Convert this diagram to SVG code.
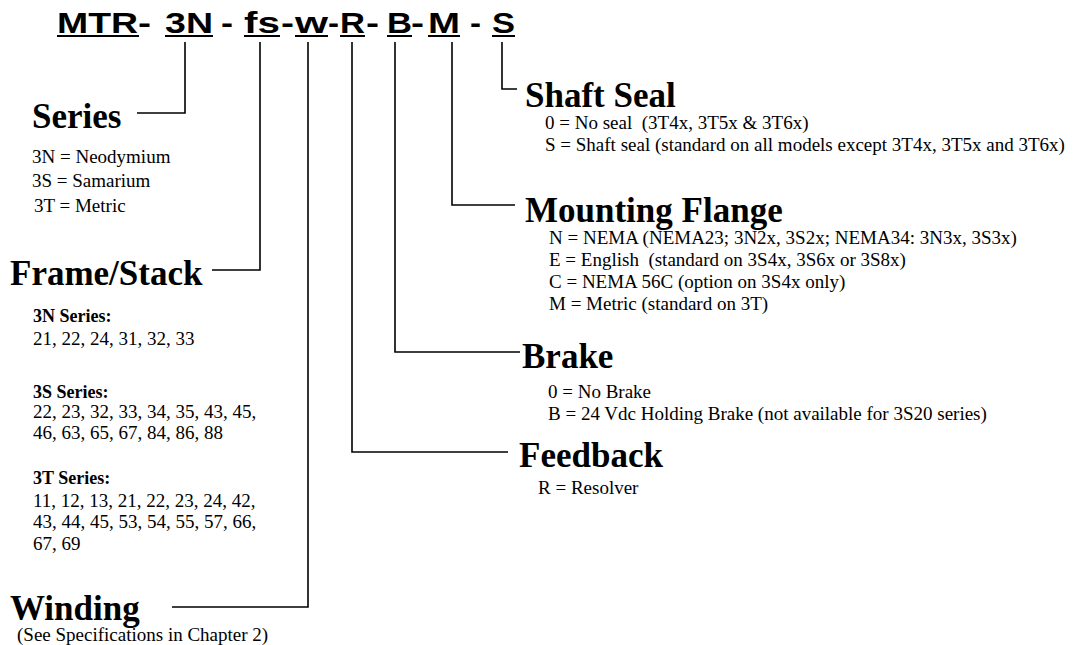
<svg xmlns="http://www.w3.org/2000/svg" width="1088" height="645" viewBox="0 0 1088 645">
<style>
.hd{font-family:"Liberation Sans",Arial,sans-serif;font-weight:bold;font-size:30px;fill:#000}
.h{font-family:"Liberation Serif","Times New Roman",serif;font-weight:bold;font-size:35px;fill:#000}
.t{font-family:"Liberation Serif","Times New Roman",serif;font-size:19px;fill:#000}
.sb{font-family:"Liberation Serif","Times New Roman",serif;font-weight:bold;font-size:18px;fill:#000}
.c{fill:none;stroke:#000;stroke-width:1.6}
.u{fill:#000}
</style>
<rect width="1088" height="645" fill="#fff"/>
<g id="model-code">
<text class="hd" y="33" x="57" textLength="81" lengthAdjust="spacingAndGlyphs">MTR</text>
<text class="hd" y="33" x="138" textLength="13" lengthAdjust="spacingAndGlyphs">-</text>
<text class="hd" y="33" x="165" textLength="48" lengthAdjust="spacingAndGlyphs">3N</text>
<text class="hd" y="33" x="221" textLength="12" lengthAdjust="spacingAndGlyphs">-</text>
<text class="hd" y="33" x="244" textLength="36" lengthAdjust="spacingAndGlyphs">fs</text>
<text class="hd" y="33" x="281" textLength="13" lengthAdjust="spacingAndGlyphs">-</text>
<text class="hd" y="33" x="295" textLength="33" lengthAdjust="spacingAndGlyphs">w</text>
<text class="hd" y="33" x="328" textLength="11" lengthAdjust="spacingAndGlyphs">-</text>
<text class="hd" y="33" x="340" textLength="25" lengthAdjust="spacingAndGlyphs">R</text>
<text class="hd" y="33" x="366" textLength="13" lengthAdjust="spacingAndGlyphs">-</text>
<text class="hd" y="33" x="387" textLength="25" lengthAdjust="spacingAndGlyphs">B</text>
<text class="hd" y="33" x="411" textLength="13" lengthAdjust="spacingAndGlyphs">-</text>
<text class="hd" y="33" x="428" textLength="32" lengthAdjust="spacingAndGlyphs">M</text>
<text class="hd" y="33" x="470" textLength="11" lengthAdjust="spacingAndGlyphs">-</text>
<text class="hd" y="33" x="492" textLength="23" lengthAdjust="spacingAndGlyphs">S</text>
<rect class="u" x="57" y="35" width="82" height="2"/>
<rect class="u" x="165" y="35" width="48" height="2"/>
<rect class="u" x="244" y="35" width="36" height="2"/>
<rect class="u" x="295" y="35" width="33" height="2"/>
<rect class="u" x="340" y="35" width="25" height="2"/>
<rect class="u" x="387" y="35" width="25" height="2"/>
<rect class="u" x="428" y="35" width="32" height="2"/>
<rect class="u" x="492" y="35" width="23" height="2"/>
</g>
<g id="connectors">
<path class="c" d="M185,42 V113 H137"/>
<path class="c" d="M260,42 V270 H212"/>
<path class="c" d="M308,42 V607 H172"/>
<path class="c" d="M352,42 V452 H508"/>
<path class="c" d="M395,42 V352 H520"/>
<path class="c" d="M452,42 V205 H515"/>
<path class="c" d="M502,42 V89 H517"/>
</g>
<g id="series">
<text class="h" x="32" y="128">Series</text>
<text class="t" x="32" y="163">3N = Neodymium</text>
<text class="t" x="32" y="187">3S = Samarium</text>
<text class="t" x="34" y="212">3T = Metric</text>
</g>
<g id="frame-stack">
<text class="h" x="10" y="285">Frame/Stack</text>
<text class="sb" x="33" y="322">3N Series:</text>
<text class="t" x="33" y="345">21, 22, 24, 31, 32, 33</text>
<text class="sb" x="33" y="398">3S Series:</text>
<text class="t" x="33" y="418">22, 23, 32, 33, 34, 35, 43, 45,</text>
<text class="t" x="33" y="439">46, 63, 65, 67, 84, 86, 88</text>
<text class="sb" x="33" y="484">3T Series:</text>
<text class="t" x="33" y="507">11, 12, 13, 21, 22, 23, 24, 42,</text>
<text class="t" x="33" y="528">43, 44, 45, 53, 54, 55, 57, 66,</text>
<text class="t" x="33" y="550">67, 69</text>
</g>
<g id="winding">
<text class="h" x="10" y="620">Winding</text>
<text class="t" x="17" y="641">(See Specifications in Chapter 2)</text>
</g>
<g id="shaft-seal">
<text class="h" x="525" y="107">Shaft Seal</text>
<text class="t" x="545" y="129" xml:space="preserve">0 = No seal  (3T4x, 3T5x &amp; 3T6x)</text>
<text class="t" x="545" y="151">S = Shaft seal (standard on all models except 3T4x, 3T5x and 3T6x)</text>
</g>
<g id="mounting-flange">
<text class="h" x="525" y="222">Mounting Flange</text>
<text class="t" x="549" y="244">N = NEMA (NEMA23; 3N2x, 3S2x; NEMA34: 3N3x, 3S3x)</text>
<text class="t" x="549" y="266" xml:space="preserve">E = English  (standard on 3S4x, 3S6x or 3S8x)</text>
<text class="t" x="549" y="288">C = NEMA 56C (option on 3S4x only)</text>
<text class="t" x="549" y="310">M = Metric (standard on 3T)</text>
</g>
<g id="brake">
<text class="h" x="522" y="368">Brake</text>
<text class="t" x="548" y="398">0 = No Brake</text>
<text class="t" x="548" y="420">B = 24 Vdc Holding Brake (not available for 3S20 series)</text>
</g>
<g id="feedback">
<text class="h" x="519" y="467">Feedback</text>
<text class="t" x="538" y="494">R = Resolver</text>
</g>
</svg>
